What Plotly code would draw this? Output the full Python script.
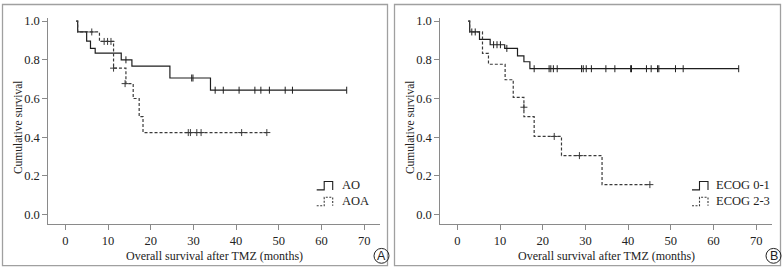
import plotly.graph_objects as go

W, H = 784, 269

# ---------------- data ----------------
# Panel A: histology
ao_t = [2.6, 2.9, 5.0, 5.9, 7.0, 13.1, 15.6, 24.5, 34.0, 65.9]
ao_s = [1.0, 0.944, 0.897, 0.859, 0.835, 0.800, 0.767, 0.706, 0.643, 0.643]
ao_cens_t = [14.2, 29.6, 29.9, 35.1, 37.0, 40.7, 44.4, 45.8, 47.8, 51.5, 53.2, 65.9]
ao_cens_s = [0.800, 0.706, 0.706, 0.643, 0.643, 0.643, 0.643, 0.643, 0.643, 0.643, 0.643, 0.643]

aoa_t = [2.5, 2.9, 8.0, 11.3, 14.2, 15.9, 17.3, 18.2, 47.2]
aoa_s = [1.0, 0.944, 0.895, 0.757, 0.677, 0.600, 0.506, 0.424, 0.424]
aoa_cens_t = [6.2, 9.1, 9.9, 10.7, 11.3, 14.0, 28.8, 29.3, 30.8, 31.8, 41.3, 47.2]
aoa_cens_s = [0.944, 0.895, 0.895, 0.895, 0.757, 0.677, 0.424, 0.424, 0.424, 0.424, 0.424, 0.424]

# Panel B: ECOG
e01_t = [2.6, 2.9, 5.2, 7.7, 11.1, 14.1, 15.6, 17.0, 65.9]
e01_s = [1.0, 0.944, 0.906, 0.878, 0.859, 0.820, 0.790, 0.754, 0.754]
e01_cens_t = [3.4, 4.2, 8.5, 9.3, 10.1, 11.6, 18.0, 21.5, 21.9, 22.5, 23.4, 29.1, 29.5,
              30.2, 31.4, 34.8, 36.9, 40.6, 40.8, 44.3, 45.4, 46.9, 47.2, 51.1, 52.9, 65.9]
e01_cens_s = [0.944, 0.944, 0.878, 0.878, 0.878, 0.859] + [0.754] * 20

e23_t = [2.5, 2.9, 5.9, 7.3, 11.2, 13.1, 15.6, 18.0, 24.4, 33.9, 45.1]
e23_s = [1.0, 0.944, 0.833, 0.777, 0.697, 0.606, 0.506, 0.404, 0.305, 0.155, 0.155]
e23_cens_t = [15.6, 22.7, 28.6, 45.1]
e23_cens_s = [0.555, 0.404, 0.305, 0.155]

x_ticks = [0, 10, 20, 30, 40, 50, 60, 70]
y_ticks = [0.0, 0.2, 0.4, 0.6, 0.8, 1.0]
x_title = "Overall survival after TMZ (months)"
y_title = "Cumulative survival"
legend_a = ["AO", "AOA"]
legend_b = ["ECOG 0-1", "ECOG 2-3"]
panel_labels = ["A", "B"]

# ---------------- styling ----------------
SERIF = "Liberation Serif"
SOLID_C = "#1e1e1e"
DASH_C = "#3a3a3a"
AXIS_C = "#8a8a8a"
FRAME_C = "#a0a0a0"


def px(x):
    return x / W


def py(y):
    return 1 - y / H


fig = go.Figure()


def add_panel(xa, ya, st, ss, sct, scs, dt, ds, dct, dcs, names):
    fig.add_trace(go.Scatter(x=st, y=ss, mode="lines", line=dict(color=SOLID_C, width=1.2, shape="hv"),
                             xaxis=xa, yaxis=ya, showlegend=False, name=names[0]))
    fig.add_trace(go.Scatter(x=sct, y=scs, mode="markers",
                             marker=dict(symbol="line-ns", size=5, line=dict(color=SOLID_C, width=1)),
                             xaxis=xa, yaxis=ya, showlegend=False))
    fig.add_trace(go.Scatter(x=dt, y=ds, mode="lines",
                             line=dict(color=DASH_C, width=1.2, shape="hv", dash="3px,2px"),
                             xaxis=xa, yaxis=ya, showlegend=False, name=names[1]))
    fig.add_trace(go.Scatter(x=dct, y=dcs, mode="markers",
                             marker=dict(symbol="cross-thin", size=5, line=dict(color=DASH_C, width=1)),
                             xaxis=xa, yaxis=ya, showlegend=False))


add_panel("x", "y", ao_t, ao_s, ao_cens_t, ao_cens_s, aoa_t, aoa_s, aoa_cens_t, aoa_cens_s, legend_a)
add_panel("x2", "y2", e01_t, e01_s, e01_cens_t, e01_cens_s, e23_t, e23_s, e23_cens_t, e23_cens_s, legend_b)

FS = 12
ax_common = dict(showline=True, linecolor=AXIS_C, linewidth=1, ticks="outside", ticklen=5,
                 tickcolor=AXIS_C, tickwidth=1, showgrid=False, zeroline=False,
                 tickfont=dict(family=SERIF, size=FS + 0.5, color="#222"))

y_dom = [py(223.3), py(15)]
fig.update_layout(
    width=W, height=H, margin=dict(l=0, r=0, t=0, b=0),
    paper_bgcolor="white", plot_bgcolor="white",
    xaxis=dict(domain=[px(48.3), px(380)], range=[-3.98, 73.7], tickvals=x_ticks,
               anchor="y", **ax_common),
    yaxis=dict(domain=y_dom, range=[-0.0475, 1.017], tickvals=y_ticks, tickformat=".1f",
               anchor="x", **ax_common),
    xaxis2=dict(domain=[px(440.3), px(772)], range=[-3.98, 73.7], tickvals=x_ticks,
                anchor="y2", **ax_common),
    yaxis2=dict(domain=y_dom, range=[-0.0475, 1.017], tickvals=y_ticks, tickformat=".1f",
                anchor="x2", **ax_common),
)

shapes = []
annotations = []
frames = [(2.5, 1.5, 387.5, 265.5), (394.5, 1.5, 780.5, 265.5)]
offsets = [0, 392]
glyph_x = [316.7, 692]
text_x = [340, 713.5]
legends = [legend_a, legend_b]

for i in range(2):
    x0, y0, x1, y1 = frames[i]
    shapes.append(dict(type="rect", xref="paper", yref="paper", x0=px(x0), x1=px(x1),
                       y0=py(y1), y1=py(y0), line=dict(color=FRAME_C, width=1.3)))
    off = offsets[i]
    # axis titles
    annotations.append(dict(text=x_title, xref="paper", yref="paper", x=px(214 + off), y=py(255.7),
                            showarrow=False, xanchor="center", yanchor="middle",
                            font=dict(family=SERIF, size=FS, color="#222")))
    annotations.append(dict(text=y_title, xref="paper", yref="paper", x=px(17.5 + off), y=py(126),
                            showarrow=False, textangle=-90, xanchor="center", yanchor="middle",
                            font=dict(family=SERIF, size=FS - 0.5, color="#222")))
    # circled panel label
    cx, cy, r = 381.5 + off, 255.7, 7.5
    shapes.append(dict(type="circle", xref="paper", yref="paper", x0=px(cx - r), x1=px(cx + r),
                       y0=py(cy + r), y1=py(cy - r), line=dict(color="#222", width=1)))
    annotations.append(dict(text=panel_labels[i], xref="paper", yref="paper", x=px(cx), y=py(cy + 0.5),
                            showarrow=False, xanchor="center", yanchor="middle",
                            font=dict(family="Liberation Sans", size=12.5, color="#222")))
    # legend glyphs
    gx = glyph_x[i]
    for j, (bot, top) in enumerate([(189, 180.5), (205, 196.5)]):
        path = (f"M {px(gx)} {py(bot)} L {px(gx + 7.5)} {py(bot)} L {px(gx + 7.5)} {py(top)} "
                f"L {px(gx + 16)} {py(top)} L {px(gx + 16)} {py(bot)}")
        shapes.append(dict(type="path", xref="paper", yref="paper", path=path,
                           line=dict(color=SOLID_C if j == 0 else DASH_C, width=1.1,
                                     dash="solid" if j == 0 else "2px,1.5px")))
        annotations.append(dict(text=legends[i][j], xref="paper", yref="paper", x=px(text_x[i]),
                                y=py((bot + top) / 2 - 0.5), showarrow=False, xanchor="left",
                                yanchor="middle", font=dict(family=SERIF, size=FS + 0.5, color="#222")))

fig.update_layout(shapes=shapes, annotations=annotations)
fig.write_html("out.html", config={"displayModeBar": False},
               post_script="document.body.style.margin='0';")
